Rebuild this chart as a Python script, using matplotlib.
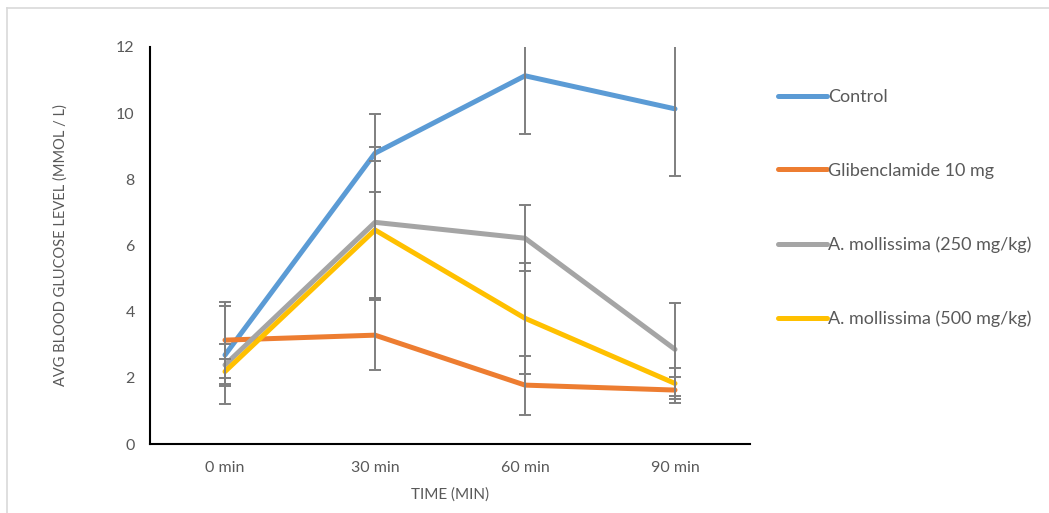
import numpy as np
import matplotlib
matplotlib.use('Agg')
import matplotlib.pyplot as plt
from matplotlib.lines import Line2D

plt.rcParams['font.family'] = ['Lato', 'DejaVu Sans']

# 数据
time_labels = ['0 min', '30 min', '60 min', '90 min']
series_names = ['Control', 'Glibenclamide 10 mg',
                'A. mollissima (250 mg/kg)', 'A. mollissima (500 mg/kg)']
control = [2.69, 8.79, 11.13, 10.13]
control_err = [1.47, 1.18, 1.76, 2.02]
gliben = [3.14, 3.29, 1.78, 1.63]
gliben_err = [1.14, 1.05, 0.89, 0.39]
moll_250 = [2.39, 6.70, 6.22, 2.86]
moll_250_err = [0.64, 2.29, 1.00, 1.41]
moll_500 = [2.19, 6.47, 3.80, 1.83]
moll_500_err = [0.38, 2.08, 1.68, 0.48]

colors = ['#5B9BD5', '#ED7D31', '#A5A5A5', '#FFC000']
text_color = '#595959'

fig = plt.figure(figsize=(10.49, 5.13), dpi=100)
ax = fig.add_axes([150 / 1049, 1 - 444 / 513, 600 / 1049, 397 / 513])

x = np.arange(len(time_labels))
all_vals = [control, gliben, moll_250, moll_500]
all_errs = [control_err, gliben_err, moll_250_err, moll_500_err]

for vals, errs, name, c in zip(all_vals, all_errs, series_names, colors):
    ax.plot(x, vals, color=c, linewidth=3.6, label=name, zorder=2,
            solid_capstyle='round', solid_joinstyle='round')
    ax.errorbar(x, vals, yerr=errs, fmt='none', ecolor='#7F7F7F',
                elinewidth=1.4, capsize=4, capthick=1.4, zorder=3)

ax.set_xlim(-0.5, 3.5)
ax.set_ylim(0, 12)
ax.set_yticks(range(0, 13, 2))
ax.set_xticks(x)
ax.set_xticklabels(time_labels)
ax.tick_params(length=0, labelsize=11.5, colors=text_color)
ax.tick_params(axis='y', pad=11)
ax.tick_params(axis='x', pad=12)

for s in ['top', 'right']:
    ax.spines[s].set_visible(False)
for s in ['left', 'bottom']:
    ax.spines[s].set_color('#000000')
    ax.spines[s].set_linewidth(1.5)

ax.set_ylabel('AVG BLOOD GLUCOSE LEVEL (MMOL / L)', fontsize=10.5, color=text_color, labelpad=35)
ax.set_xlabel('TIME (MIN)', fontsize=11, color=text_color, labelpad=9)

leg = ax.legend(loc='upper left', bbox_to_anchor=(778 / 1049, 1 - 89 / 513),
                bbox_transform=fig.transFigure, frameon=False, fontsize=13,
                handlelength=2.7, handletextpad=0.08, labelspacing=3.2,
                borderaxespad=0, borderpad=0)
for t in leg.get_texts():
    t.set_color(text_color)

# 图表区域边框（仅左侧和上方可见）
fig.add_artist(Line2D([7 / 1049, 7 / 1049], [0, 1 - 8 / 513], transform=fig.transFigure,
                      color='#D9D9D9', linewidth=1.2))
fig.add_artist(Line2D([7 / 1049, 1], [1 - 8 / 513, 1 - 8 / 513], transform=fig.transFigure,
                      color='#D9D9D9', linewidth=1.2))

plt.savefig('out.png', dpi=100)
plt.close()
